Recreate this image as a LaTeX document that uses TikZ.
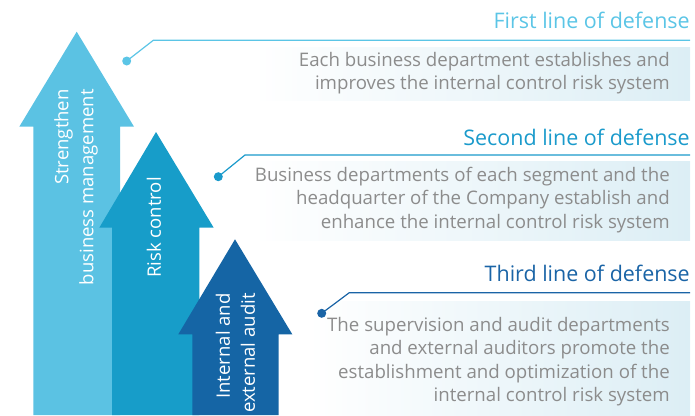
\documentclass[tikz,border=0pt]{standalone}
\usepackage{fontspec}
\setmainfont{Open Sans}

\definecolor{arrowone}{HTML}{5BC2E3}
\definecolor{arrowtwo}{HTML}{179DC9}
\definecolor{arrowthree}{HTML}{1565A5}
\definecolor{lineone}{HTML}{5BC5E6}
\definecolor{linetwo}{HTML}{1A9ACB}
\definecolor{linethree}{HTML}{1A64A6}
\definecolor{bodygray}{HTML}{8C8C8C}
\definecolor{boxblue}{HTML}{DCEEF5}

\tikzset{
  arrowlabel/.style={rotate=90, anchor=east, inner sep=0pt, align=right, text=white,
    font=\fontsize{13.9}{18.8}\selectfont},
  linetitle/.style={anchor=east, inner sep=0pt, font=\fontsize{16.1}{19}\selectfont},
  linebody/.style={anchor=east, inner sep=0pt, align=right, text=bodygray,
    font=\fontsize{14}{17.6}\selectfont},
  fadebox/.style={left color=white, right color=boxblue, draw=none},
  leader/.style={line width=0.9pt},
}

\begin{document}
\begin{tikzpicture}[x=0.75pt,y=0.75pt,yscale=-1,xscale=1]
\clip (0,0) rectangle (695,415);
\useasboundingbox (0,0) rectangle (695,415);

%Shape: Arrow [id:first]
\fill [arrowone] (33.3,415) -- (33.3,126.7) -- (19.3,126.7) -- (76.7,31.7) -- (134,126.7) -- (120,126.7) -- (120,415) -- cycle ;
%Shape: Arrow [id:second]
\fill [arrowtwo] (112,415) -- (112,227.7) -- (99.3,227.7) -- (156,132) -- (213.7,227.7) -- (199.3,227.7) -- (199.3,415) -- cycle ;
%Shape: Arrow [id:third]
\fill [arrowthree] (192.3,415) -- (192.3,334.3) -- (178.3,334.3) -- (235,239.3) -- (292.3,334.3) -- (278.7,334.3) -- (278.7,415) -- cycle ;

% Text Node
\node [arrowlabel] (manage) at (76,89) {Strengthen\\business management};
% Text Node
\node [arrowlabel] (risk) at (154,177) {Risk control};
% Text Node
\node [arrowlabel] (audit) at (235.5,293) {Internal and\\external audit};

%Shape: Rectangle [id:boxone]
\shade [fadebox] (253,47.7) rectangle (690,100.7) ;
%Shape: Rectangle [id:boxtwo]
\shade [fadebox] (253,161.7) rectangle (690,240) ;
%Shape: Rectangle [id:boxthree]
\shade [fadebox] (308,301.7) rectangle (690,415) ;

%Straight Lines [id:leaderone]
\coordinate (dotone) at (126.7,61) ;
\coordinate (bendone) at (153.3,40.3) ;
\coordinate (endone) at (690,40.3) ;
\draw [leader, lineone] (dotone) -- (bendone) -- (endone) ;
\fill [lineone] (dotone) circle (4.5) ;
%Straight Lines [id:leadertwo]
\coordinate (dottwo) at (218.3,176.7) ;
\coordinate (bendtwo) at (245,155) ;
\coordinate (endtwo) at (690,155) ;
\draw [leader, linetwo] (dottwo) -- (bendtwo) -- (endtwo) ;
\fill [linetwo] (dottwo) circle (4.5) ;
%Straight Lines [id:leaderthree]
\coordinate (dotthree) at (321.7,313.3) ;
\coordinate (bendthree) at (349.3,292.7) ;
\coordinate (endthree) at (690,292.7) ;
\draw [leader, linethree] (dotthree) -- (bendthree) -- (endthree) ;
\fill [linethree] (dotthree) circle (4.5) ;

% Text Node
\node [linetitle, text=lineone] (titleone) at (690,20) {First line of defense};
% Text Node
\node [linetitle, text=linetwo] (titletwo) at (690,137) {Second line of defense};
% Text Node
\node [linetitle, text=linethree] (titlethree) at (690,273) {Third line of defense};

% Text Node
\node [linebody] (bodyone) at (670,73) {Each business department establishes and\\improves the internal control risk system};
% Text Node
\node [linebody] (bodytwo) at (670,200) {Business departments of each segment and the\\headquarter of the Company establish and\\enhance the internal control risk system};
% Text Node
\node [linebody] (bodythree) at (670,361.7) {The supervision and audit departments\\and external auditors promote the\\establishment and optimization of the\\internal control risk system};

\end{tikzpicture}
\end{document}
